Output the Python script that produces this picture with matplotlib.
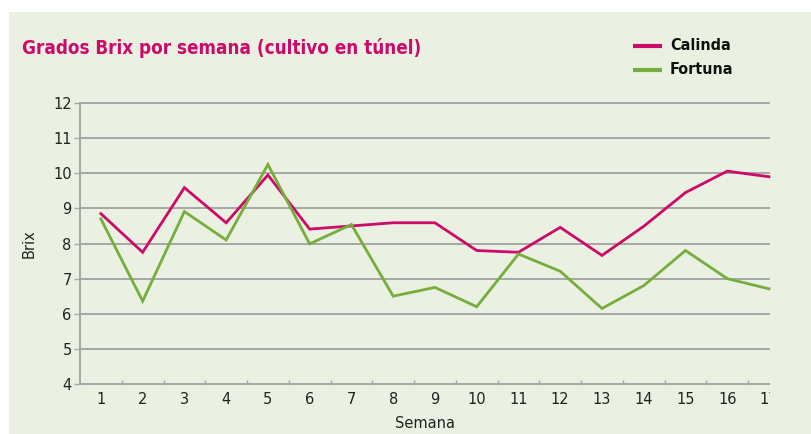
import matplotlib
matplotlib.use("Agg")
import matplotlib.pyplot as plt
from matplotlib.patches import Rectangle
from matplotlib.transforms import Bbox, TransformedBbox
from matplotlib.lines import Line2D

weeks = list(range(1, 18))
week_labels = [str(w) for w in weeks]
calinda = [8.85, 7.75, 9.59, 8.59, 9.95, 8.41, 8.50, 8.59, 8.59, 7.80, 7.75, 8.46, 7.66, 8.49, 9.45, 10.06, 9.90]
fortuna = [8.70, 6.36, 8.91, 8.10, 10.25, 7.99, 8.54, 6.50, 6.75, 6.20, 7.70, 7.21, 6.15, 6.80, 7.80, 7.00, 6.71]
y_ticks = [4, 5, 6, 7, 8, 9, 10, 11, 12]

BG = "#EAF0E2"
MAGENTA = "#CC0A6A"
GREEN = "#76AE3C"
GRID = "#A6A6A6"
W, H = 811, 434

fig = plt.figure(figsize=(W / 100, H / 100), dpi=100)
fig.patch.set_facecolor("white")
fig.patches.append(Rectangle((9 / W, 0), 1 - 9 / W, 1 - 12 / H, transform=fig.transFigure,
                             facecolor=BG, edgecolor="none", zorder=-10))

ax = fig.add_axes([80 / W, 1 - 384 / H, (769 - 80) / W, (384 - 103) / H])
ax.set_facecolor(BG)
ax.patch.set_alpha(0)

ax.plot(weeks, calinda, color=MAGENTA, lw=2.0, solid_joinstyle="miter", zorder=3, clip_on=False)
ax.plot(weeks, fortuna, color=GREEN, lw=2.0, solid_joinstyle="miter", zorder=3, clip_on=False)

ax.set_xlim(0.5, 17)
ax.set_ylim(4, 12)
ax.set_yticks(y_ticks)
ax.set_yticklabels([str(v) for v in y_ticks])
ax.set_xticks(weeks)
ax.set_xticklabels(week_labels)
ax.set_xticks([w + 0.5 for w in weeks[:-1]], minor=True)

for y in y_ticks[1:]:
    ax.axhline(y, color=GRID, lw=1.4, zorder=1, clip_on=False)

for s in ["top", "right"]:
    ax.spines[s].set_visible(False)
for s in ["left", "bottom"]:
    ax.spines[s].set_color(GRID)
    ax.spines[s].set_linewidth(1.4)

ax.tick_params(axis="x", which="major", length=0, pad=6, labelsize=10.5, labelcolor="#222222")
ax.tick_params(axis="x", which="minor", length=3, direction="in", color=GRID, width=1)
ax.tick_params(axis="y", which="major", length=4, direction="out", color=GRID, width=1,
               pad=2, labelsize=10.5, labelcolor="#222222")

ax.set_xlabel("Semana", fontsize=10.5, color="#222222", labelpad=6)
ax.set_ylabel("Brix", fontsize=10.5, color="#222222", labelpad=12)

clip = TransformedBbox(Bbox.from_extents(0, 0, 769.5 / W, 1), fig.transFigure)
for lab in ax.get_xticklabels():
    lab.set_clip_on(True)
    lab.set_clip_box(clip)

title_font = ["DejaVu Sans"]
fig.text(22 / W, 1 - 48 / H, "Grados Brix por semana (cultivo en túnel)", color=MAGENTA,
         fontsize=13.5, fontweight="bold", fontstretch="condensed", family=title_font,
         va="center", ha="left")

for i, (name, col) in enumerate([("Calinda", MAGENTA), ("Fortuna", GREEN)]):
    yy = 1 - (46 + 24 * i) / H
    fig.add_artist(Line2D([633 / W, 662 / W], [yy, yy], transform=fig.transFigure,
                          color=col, lw=3, solid_capstyle="butt"))
    fig.text(670 / W, yy, name, color="#111111", fontsize=11.5, fontweight="bold",
             fontstretch="condensed", family=title_font, va="center", ha="left")

fig.savefig("out.png", dpi=100, facecolor=fig.get_facecolor())
